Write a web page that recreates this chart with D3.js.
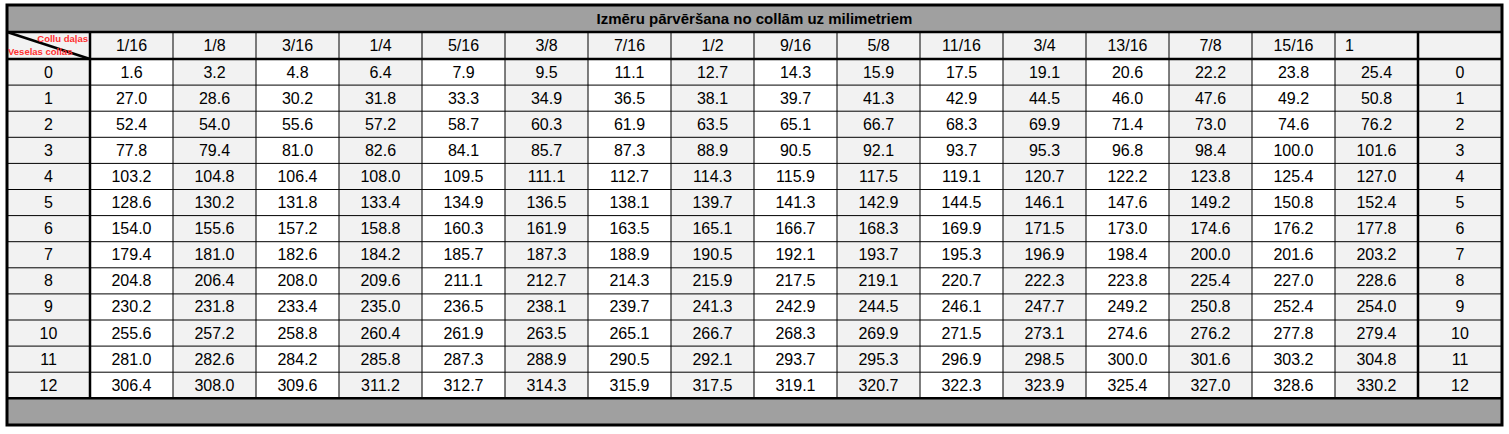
<!DOCTYPE html>
<html><head><meta charset="utf-8">
<script src="https://cdn.jsdelivr.net/npm/d3@7"></script>
<style>body{margin:0;background:#fff}svg{display:block}</style>
</head><body>
<script>
// table content
const title = "Izmēru pārvēršana no collām uz milimetriem";
const fractions = ["1/16","1/8","3/16","1/4","5/16","3/8","7/16","1/2","9/16","5/8","11/16","3/4","13/16","7/8","15/16","1"];
const inches = [0,1,2,3,4,5,6,7,8,9,10,11,12];
const mm = [
  [1.6,3.2,4.8,6.4,7.9,9.5,11.1,12.7,14.3,15.9,17.5,19.1,20.6,22.2,23.8,25.4],
  [27.0,28.6,30.2,31.8,33.3,34.9,36.5,38.1,39.7,41.3,42.9,44.5,46.0,47.6,49.2,50.8],
  [52.4,54.0,55.6,57.2,58.7,60.3,61.9,63.5,65.1,66.7,68.3,69.9,71.4,73.0,74.6,76.2],
  [77.8,79.4,81.0,82.6,84.1,85.7,87.3,88.9,90.5,92.1,93.7,95.3,96.8,98.4,100.0,101.6],
  [103.2,104.8,106.4,108.0,109.5,111.1,112.7,114.3,115.9,117.5,119.1,120.7,122.2,123.8,125.4,127.0],
  [128.6,130.2,131.8,133.4,134.9,136.5,138.1,139.7,141.3,142.9,144.5,146.1,147.6,149.2,150.8,152.4],
  [154.0,155.6,157.2,158.8,160.3,161.9,163.5,165.1,166.7,168.3,169.9,171.5,173.0,174.6,176.2,177.8],
  [179.4,181.0,182.6,184.2,185.7,187.3,188.9,190.5,192.1,193.7,195.3,196.9,198.4,200.0,201.6,203.2],
  [204.8,206.4,208.0,209.6,211.1,212.7,214.3,215.9,217.5,219.1,220.7,222.3,223.8,225.4,227.0,228.6],
  [230.2,231.8,233.4,235.0,236.5,238.1,239.7,241.3,242.9,244.5,246.1,247.7,249.2,250.8,252.4,254.0],
  [255.6,257.2,258.8,260.4,261.9,263.5,265.1,266.7,268.3,269.9,271.5,273.1,274.6,276.2,277.8,279.4],
  [281.0,282.6,284.2,285.8,287.3,288.9,290.5,292.1,293.7,295.3,296.9,298.5,300.0,301.6,303.2,304.8],
  [306.4,308.0,309.6,311.2,312.7,314.3,315.9,317.5,319.1,320.7,322.3,323.9,325.4,327.0,328.6,330.2]
];

const W = 1509, H = 434;
const x0 = 7, x1 = 1502, y0 = 5, y1 = 425;
const firstW = 83, rowH = 26.1;
const font = "'Liberation Sans', Arial, sans-serif";

const svg = d3.select("body").append("svg").attr("width", W).attr("height", H);

const x = d3.scaleBand().domain(fractions).range([x0 + firstW, x0 + firstW + 16 * 83]);
const y = d3.scaleBand().domain(inches).range([y0 + 54, y0 + 54 + 13 * rowH]);
const headTop = y0 + 27, headBot = y0 + 54;
const dataBot = y.range()[1];
const lastX = x.range()[1];

// backgrounds
svg.append("rect").attr("x", x0).attr("y", y0).attr("width", x1 - x0).attr("height", 27).attr("fill", "#a0a0a0");
svg.append("rect").attr("x", x0).attr("y", dataBot).attr("width", x1 - x0).attr("height", y1 - dataBot).attr("fill", "#a0a0a0");
svg.append("rect").attr("x", x0).attr("y", headTop).attr("width", x1 - x0).attr("height", dataBot - headTop).attr("fill", "#f2f2f2");
svg.selectAll("rect.col").data(fractions.filter((d, i) => i % 2 === 0)).join("rect").attr("class", "col")
  .attr("x", d => x(d)).attr("y", headBot).attr("width", x.bandwidth()).attr("height", dataBot - headBot).attr("fill", "#fff");

// thin grid lines
const g = svg.append("g").attr("stroke", "#000").attr("stroke-width", 1);
fractions.slice(1).forEach(f => g.append("line").attr("x1", x(f)).attr("x2", x(f)).attr("y1", headTop).attr("y2", dataBot));
inches.slice(1).forEach(r => g.append("line").attr("x1", x0).attr("x2", x1).attr("y1", y(r)).attr("y2", y(r)));

// thick lines
const t = svg.append("g").attr("stroke", "#000").attr("stroke-width", 2.5);
[x0 + firstW, lastX].forEach(v => t.append("line").attr("x1", v).attr("x2", v).attr("y1", headTop).attr("y2", dataBot));
[headTop, headBot, dataBot].forEach(v => t.append("line").attr("x1", x0).attr("x2", x1).attr("y1", v).attr("y2", v));
svg.append("rect").attr("x", x0).attr("y", y0).attr("width", x1 - x0).attr("height", y1 - y0)
  .attr("fill", "none").attr("stroke", "#000").attr("stroke-width", 3);

// corner cell
svg.append("line").attr("x1", x0).attr("y1", headTop).attr("x2", x0 + firstW).attr("y2", headBot)
  .attr("stroke", "#000").attr("stroke-width", 2.5);
svg.append("text").attr("x", x0 + firstW - 2).attr("y", headTop + 10).attr("text-anchor", "end")
  .attr("font-family", font).attr("font-size", 9.5).attr("font-weight", "bold").attr("fill", "#ff3030").text("Collu daļas");
svg.append("text").attr("x", x0 + 1).attr("y", headTop + 23)
  .attr("font-family", font).attr("font-size", 9.5).attr("font-weight", "bold").attr("fill", "#ff3030").text("Veselas collas");

// title
svg.append("text").attr("x", (x0 + x1) / 2).attr("y", y0 + 19).attr("text-anchor", "middle")
  .attr("font-family", font).attr("font-size", 15).attr("font-weight", "bold").text(title);

// header labels
svg.selectAll("text.h").data(fractions).join("text").attr("class", "h")
  .attr("x", (d, i) => i === 15 ? x(d) + 10 : x(d) + x.bandwidth() / 2)
  .attr("y", headTop + 19).attr("text-anchor", (d, i) => i === 15 ? "start" : "middle")
  .attr("font-family", font).attr("font-size", 16).text(d => d);

// row labels both sides
inches.forEach(r => {
  [x0 + firstW / 2, (lastX + x1) / 2].forEach(cx =>
    svg.append("text").attr("x", cx).attr("y", y(r) + 18.5).attr("text-anchor", "middle")
      .attr("font-family", font).attr("font-size", 16).text(r));
});

// values
const rows = svg.selectAll("g.row").data(mm).join("g").attr("class", "row")
  .attr("transform", (d, i) => `translate(0,${y(inches[i])})`);
rows.selectAll("text").data(d => d).join("text")
  .attr("x", (d, i) => x(fractions[i]) + x.bandwidth() / 2).attr("y", 18.5).attr("text-anchor", "middle")
  .attr("font-family", font).attr("font-size", 16).text(d => d.toFixed(1));
</script>
</body></html>
